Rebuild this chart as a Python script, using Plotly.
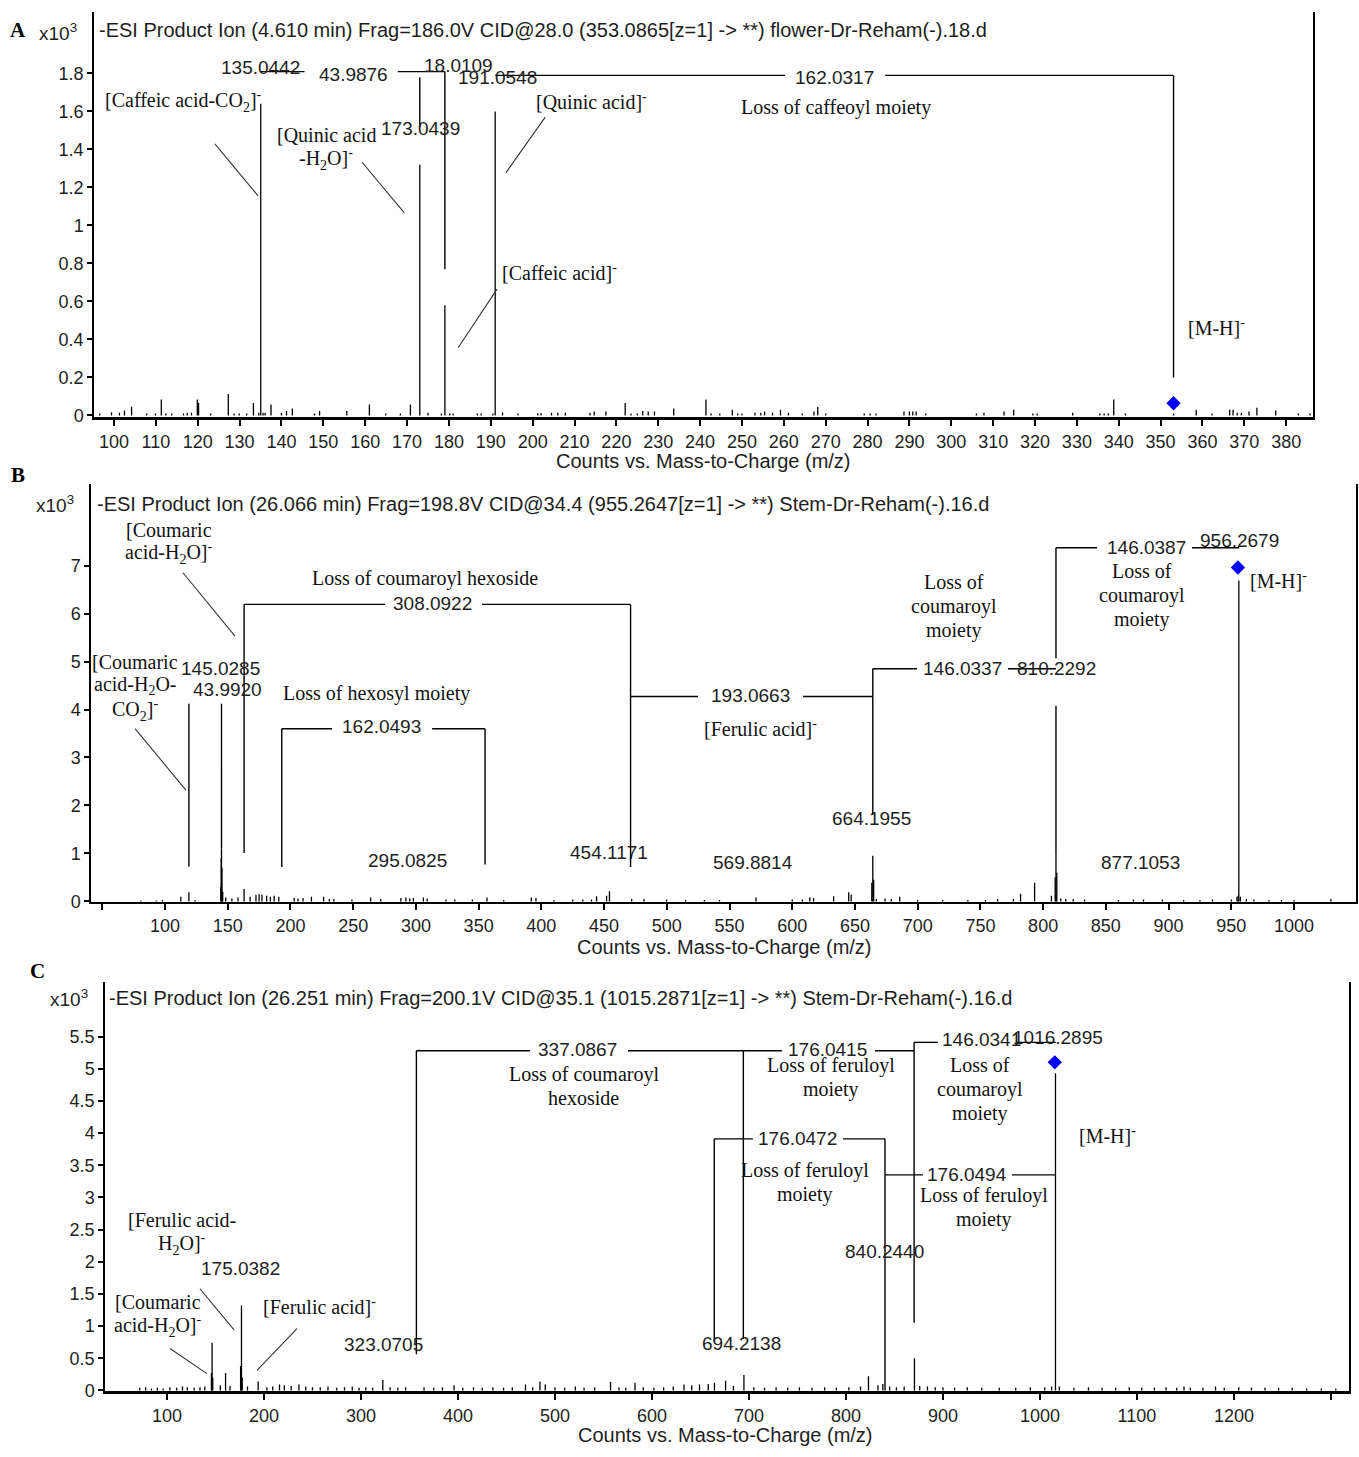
import plotly.graph_objects as go

# ---------------- Panel A data (x10^3 counts) ----------------
a_mz = [96.6, 99.4, 101.3, 102.5, 104.2, 107.8, 109.9, 111.3, 112.4, 113.8, 116.6, 117.5, 118.5,
        119.9, 120.2, 123.1, 127.3, 128.7, 129.9, 131.7, 133.3, 134.6, 135.0442, 135.6, 136.1,
        137.5, 140.0, 141.2, 142.6, 147.9, 149.1, 155.6, 161.0, 164.9, 168.4, 170.8, 173.0439,
        175.0, 178.2, 179.0344, 180.2, 181.0, 186.8, 187.7, 190.5, 191.0548, 192.8, 196.5, 201.2,
        202.0, 204.5, 206.0, 207.8, 213.7, 214.7, 217.5, 222.1, 223.5, 225.0, 226.3, 227.6, 229.1,
        233.7, 241.4, 242.6, 244.7, 247.7, 249.0, 250.0, 253.1, 254.5, 255.4, 257.3, 259.2, 261.1,
        264.4, 267.2, 268.1, 270.0, 279.2, 280.6, 282.0, 288.7, 290.0, 290.8, 291.6, 293.9, 306.0,
        307.8, 312.6, 314.9, 319.5, 320.5, 329.0, 335.5, 336.5, 337.5, 338.8, 341.6, 353.1, 358.5,
        362.3, 366.5, 367.3, 368.3, 369.3, 371.1, 373.0, 377.5, 382.9, 385.7]
a_int = [0.01, 0.017, 0.014, 0.026, 0.045, 0.01, 0.01, 0.084, 0.01, 0.01, 0.01, 0.014, 0.014,
         0.084, 0.066, 0.01, 0.113, 0.01, 0.01, 0.01, 0.066, 0.014, 1.64, 0.014, 0.014,
         0.058, 0.014, 0.023, 0.037, 0.01, 0.023, 0.023, 0.058, 0.01, 0.01, 0.058, 1.32,
         0.014, 0.01, 0.58, 0.01, 0.01, 0.01, 0.01, 0.01, 1.60, 0.017, 0.01, 0.012,
         0.012, 0.014, 0.014, 0.014, 0.014, 0.02, 0.02, 0.066, 0.01, 0.01, 0.023, 0.02, 0.02,
         0.037, 0.084, 0.01, 0.01, 0.03, 0.01, 0.01, 0.014, 0.014, 0.02, 0.014, 0.03, 0.014,
         0.01, 0.02, 0.044, 0.01, 0.01, 0.01, 0.01, 0.02, 0.02, 0.02, 0.02, 0.01, 0.01,
         0.014, 0.02, 0.03, 0.01, 0.01, 0.014, 0.01, 0.01, 0.01, 0.084, 0.01, 0.01, 0.03,
         0.01, 0.03, 0.03, 0.014, 0.014, 0.02, 0.04, 0.026, 0.01, 0.01]
a_prec_mz = [353.0865]
a_prec_int = [0.064]
a_lead_mz = [173.0439, 179.0344, 353.0865]
a_lead_top = [1.78, 1.81, 1.79]
a_lead_bot = [1.52, 0.77, 0.20]
a_br_from = [135.0442, 191.0548]
a_br_to = [179.0344, 353.0865]
a_br_y = [1.81, 1.79]
a_br_gap = [(145.5, 167.8), (260.3, 284.2)]
a_diag = [(124.1, 1.429, 134.4, 1.156), (159.2, 1.334, 169.3, 1.067),
          (203.0, 1.570, 193.6, 1.277), (191.5, 0.665, 182.2, 0.356)]

# ---------------- Panel B data ----------------
b_mz = [80.7, 93.0, 98.0, 112.6, 119.05, 124.0, 144.5, 144.8, 145.0285, 145.4, 146.0, 148.4, 153.3,
        158.2, 163.04, 167.8, 172.5, 175.0, 177.3, 181.0, 184.0, 187.0, 190.7, 203.0, 206.0, 210.0,
        216.7, 226.4, 231.0, 234.6, 249.0, 263.9, 272.0, 288.0, 292.0, 295.08, 298.0, 306.0, 309.0,
        324.0, 331.0, 345.0, 356.7, 370.0, 392.0, 395.7, 410.0, 425.0, 433.0, 440.0, 444.0, 452.0,
        454.3, 472.0, 481.8, 499.8, 515.0, 530.0, 542.0, 571.1, 600.0, 608.0, 614.0, 617.0, 633.0,
        645.0, 647.0, 663.4, 664.1955, 664.9, 667.0, 674.0, 679.0, 685.7, 700.0, 720.0, 740.0,
        754.0, 763.7, 776.3, 782.0, 793.2, 806.6, 809.6, 810.2292, 810.9, 814.0, 818.0, 824.0,
        833.0, 860.0, 872.0, 880.0, 895.0, 912.0, 925.0, 935.0, 950.0, 954.5, 955.5, 956.0, 957.2,
        962.0, 968.0, 980.0, 990.0, 1000.0, 1029.4]
b_int = [0.02, 0.02, 0.03, 0.10, 0.19, 0.03, 0.30, 0.90, 1.11, 0.70, 0.20, 0.08, 0.06,
         0.08, 0.26, 0.10, 0.14, 0.15, 0.14, 0.12, 0.10, 0.12, 0.10, 0.07, 0.06, 0.07,
         0.10, 0.10, 0.05, 0.05, 0.04, 0.08, 0.05, 0.07, 0.08, 0.06, 0.07, 0.08, 0.06,
         0.04, 0.04, 0.04, 0.08, 0.03, 0.08, 0.07, 0.03, 0.04, 0.04, 0.04, 0.11, 0.12,
         0.21, 0.05, 0.05, 0.04, 0.03, 0.03, 0.03, 0.08, 0.04, 0.04, 0.08, 0.07, 0.11,
         0.19, 0.145, 0.39, 0.95, 0.45, 0.05, 0.06, 0.05, 0.10, 0.03, 0.03, 0.03,
         0.03, 0.05, 0.05, 0.16, 0.39, 0.12, 0.50, 0.95, 0.60, 0.06, 0.05, 0.05,
         0.04, 0.03, 0.04, 0.04, 0.04, 0.03, 0.03, 0.04, 0.04, 0.10, 0.12, 6.69, 0.10,
         0.05, 0.04, 0.03, 0.03, 0.03, 0.05]
b_prec_mz = [955.2647]
b_prec_int = [6.96]
b_lead_mz = [119.05, 145.0285, 163.04, 193.0663, 355.12, 471.11, 664.1955, 810.2292, 810.2292]
b_lead_top = [4.12, 4.12, 6.19, 3.60, 3.60, 6.19, 4.85, 4.08, 7.37]
b_lead_bot = [0.73, 1.11, 1.01, 0.72, 0.77, 0.72, 1.80, 0.95, 5.07]
b_br_from = [163.04, 193.0663, 471.11, 664.1955, 810.2292]
b_br_to = [471.11, 355.12, 664.1955, 810.2292, 956.2679]
b_br_y = [6.19, 3.60, 4.27, 4.85, 7.37]
b_br_gap = [(275.4, 352.7), (233.1, 312.9), (524.9, 608.6), (699.5, 772.0), (843.0, 918.7)]
b_diag = [(114.3, 6.85, 155.8, 5.53), (76.1, 3.60, 116.7, 2.32)]

# ---------------- Panel C data ----------------
c_mz = [72, 78, 84, 90, 96, 103, 110, 116, 121, 128, 134, 139, 145.8, 146.5, 147.2, 155, 160.4, 165,
        175.9, 176.4, 176.8, 177.6, 183, 194, 203, 209, 216, 221, 228, 236, 243, 250, 258, 266, 275,
        283, 291, 298, 305, 312, 322.5, 330, 338, 346, 365, 375, 384, 396, 405, 416, 425, 436, 447,
        456, 469.6, 477, 484.5, 490, 500, 510, 521, 530, 541, 557.3, 566, 573, 582.5, 591, 602, 612,
        622, 633, 641, 649, 658, 664.4, 675.9, 684, 694.8, 705, 716, 728, 740, 752, 765, 778, 790,
        803, 815, 823.2, 833, 838, 845, 852, 860, 870.6, 876, 884, 892, 900, 912, 925, 940, 958,
        975, 990, 1005, 1012, 1016.0, 1020, 1035, 1050, 1064, 1078, 1092, 1105, 1118, 1130, 1141,
        1148.5, 1155, 1168, 1181, 1190, 1205, 1218, 1232, 1246, 1260, 1275, 1290, 1305]
c_int = [0.04, 0.05, 0.03, 0.04, 0.03, 0.05, 0.04, 0.06, 0.05, 0.04, 0.05, 0.06, 0.27, 0.74, 0.20, 0.08,
         0.27, 0.07, 0.38, 0.36, 1.32, 0.20, 0.06, 0.14, 0.05, 0.06, 0.09, 0.08, 0.07, 0.09, 0.06,
         0.05, 0.05, 0.06, 0.04, 0.05, 0.06, 0.04, 0.05, 0.04, 0.16, 0.05, 0.04, 0.05, 0.05, 0.04,
         0.05, 0.08, 0.04, 0.05, 0.04, 0.05, 0.04, 0.05, 0.09, 0.05, 0.14, 0.09, 0.05, 0.04, 0.06,
         0.04, 0.05, 0.13, 0.05, 0.04, 0.12, 0.05, 0.04, 0.05, 0.06, 0.09, 0.08, 0.09, 0.10, 0.12,
         0.15, 0.07, 0.24, 0.05, 0.04, 0.05, 0.04, 0.05, 0.04, 0.05, 0.04, 0.05, 0.06, 0.22, 0.08,
         0.10, 0.06, 0.05, 0.06, 0.50, 0.07, 0.06, 0.05, 0.05, 0.04, 0.05, 0.04, 0.04, 0.04, 0.05,
         0.05, 0.06, 4.93, 0.06, 0.04, 0.05, 0.04, 0.04, 0.05, 0.04, 0.04, 0.05, 0.04, 0.06, 0.04,
         0.04, 0.06, 0.04, 0.05, 0.04, 0.04, 0.04, 0.04, 0.03, 0.03, 0.03]
c_prec_mz = [1015.2871]
c_prec_int = [5.10]
c_lead_mz = [357.13, 694.2138, 870.25, 664.2, 840.244]
c_lead_top = [5.28, 5.28, 5.41, 3.91, 3.91]
c_lead_bot = [0.56, 0.80, 1.05, 0.76, 0.0]
c_br_from = [357.13, 694.2138, 870.25, 664.2, 840.244]
c_br_to = [694.2138, 870.25, 1016.2895, 840.244, 1016.2895]
c_br_y = [5.28, 5.28, 5.41, 3.91, 3.35]
c_br_gap = [(474.2, 575.3), (734.0, 829.9), (894.8, 976.3), (704.1, 796.9), (879.4, 971.1)]
c_diag = [(103.1, 0.65, 141.2, 0.26), (134.0, 1.58, 169.1, 0.94), (234.0, 0.96, 192.8, 0.31)]

SANS = "Liberation Sans, Arial, sans-serif"
SERIF = "Liberation Serif, Times New Roman, serif"
TXT = "#1e1e1e"
W, H = 1359, 1457

# y-axis pixel heights and ranges of each panel (used to place multi-line labels)
PANEL_Y = {"": ((12, 420), (-0.0105, 2.124)),
           "2": ((487, 908), (-0.02, 8.70)),
           "3": ((988, 1400), (-0.015, 6.35))}


def sticks(xs, lo, hi):
    X, Y = [], []
    for x, a, b in zip(xs, lo, hi):
        X += [x, x, None]
        Y += [a, b, None]
    return X, Y


def brackets(x1s, x2s, ys, gaps):
    X, Y = [], []
    for x1, x2, y, (g1, g2) in zip(x1s, x2s, ys, gaps):
        lo, hi = min(x1, x2), max(x1, x2)
        X += [lo, g1, None, g2, hi, None]
        Y += [y, y, None, y, y, None]
    return X, Y


def diag(lines):
    X, Y = [], []
    for x0, y0, x1, y1 in lines:
        X += [x0, x1, None]
        Y += [y0, y1, None]
    return X, Y


fig = go.Figure()

panels = [
    ("x", "y", a_mz, a_int, a_prec_mz, a_prec_int, a_lead_mz, a_lead_top, a_lead_bot,
     a_br_from, a_br_to, a_br_y, a_br_gap, a_diag),
    ("x2", "y2", b_mz, b_int, b_prec_mz, b_prec_int, b_lead_mz, b_lead_top, b_lead_bot,
     b_br_from, b_br_to, b_br_y, b_br_gap, b_diag),
    ("x3", "y3", c_mz, c_int, c_prec_mz, c_prec_int, c_lead_mz, c_lead_top, c_lead_bot,
     c_br_from, c_br_to, c_br_y, c_br_gap, c_diag),
]

for xa, ya, mz, inten, pmz, pint, lmz, ltop, lbot, bf, bt, by, bg, dg in panels:
    X, Y = sticks(mz, [0] * len(mz), inten)
    fig.add_trace(go.Scatter(x=X, y=Y, mode="lines", xaxis=xa, yaxis=ya,
                             line=dict(color="black", width=1.3), hoverinfo="skip", showlegend=False))
    X, Y = sticks(lmz, lbot, ltop)
    fig.add_trace(go.Scatter(x=X, y=Y, mode="lines", xaxis=xa, yaxis=ya,
                             line=dict(color="black", width=1.4), hoverinfo="skip", showlegend=False))
    X, Y = brackets(bf, bt, by, bg)
    fig.add_trace(go.Scatter(x=X, y=Y, mode="lines", xaxis=xa, yaxis=ya,
                             line=dict(color="black", width=1.4), hoverinfo="skip", showlegend=False))
    X, Y = diag(dg)
    fig.add_trace(go.Scatter(x=X, y=Y, mode="lines", xaxis=xa, yaxis=ya,
                             line=dict(color="#333333", width=1.1), hoverinfo="skip", showlegend=False))
    fig.add_trace(go.Scatter(x=pmz, y=pint, mode="markers", xaxis=xa, yaxis=ya,
                             marker=dict(symbol="diamond", color="#0000ff", size=11),
                             hoverinfo="skip", showlegend=False))

M = "]<sup>-</sup>"
# (panel, text, x, y, font)
labels = [
    # Panel A
    ("", "135.0442", 135.1, 1.832, "s"),
    ("", "43.9876", 157.1, 1.795, "s"),
    ("", "18.0109", 182.4, 1.842, "s"),
    ("", "191.0548", 191.5, 1.779, "s"),
    ("", "162.0317", 272.2, 1.779, "s"),
    ("", "173.0439", 173.1, 1.512, "s"),
    ("", "[Caffeic acid-CO<sub>2</sub>" + M, 116.5, 1.654, "r"),
    ("", "[Quinic acid<br>-H<sub>2</sub>O" + M, 150.7, 1.413, "r"),
    ("", "[Quinic acid" + M, 214.0, 1.654, "r"),
    ("", "[Caffeic acid" + M, 206.3, 0.754, "r"),
    ("", "Loss of caffeoyl moiety", 272.5, 1.622, "r"),
    ("", "[M-H" + M, 363.3, 0.466, "r"),
    # Panel B
    ("2", "[Coumaric<br>acid-H<sub>2</sub>O" + M, 103.2, 7.50, "r"),
    ("2", "[Coumaric<br>acid-H<sub>2</sub>O-<br>CO<sub>2</sub>" + M, 76.1, 4.49, "r"),
    ("2", "145.0285", 144.6, 4.85, "s"),
    ("2", "43.9920", 150.2, 4.41, "s"),
    ("2", "Loss of coumaroyl hexoside", 307.3, 6.73, "r"),
    ("2", "308.0922", 313.6, 6.21, "s"),
    ("2", "Loss of hexosyl moiety", 268.2, 4.33, "r"),
    ("2", "162.0493", 272.2, 3.64, "s"),
    ("2", "295.0825", 292.9, 0.85, "s"),
    ("2", "454.1171", 454.0, 1.01, "s"),
    ("2", "569.8814", 568.7, 0.81, "s"),
    ("2", "193.0663", 566.4, 4.29, "s"),
    ("2", "[Ferulic acid" + M, 574.3, 3.62, "r"),
    ("2", "Loss of<br>coumaroyl<br>moiety", 729.0, 6.15, "r"),
    ("2", "146.0337", 735.4, 4.85, "s"),
    ("2", "810.2292", 810.3, 4.85, "s"),
    ("2", "664.1955", 662.8, 1.72, "s"),
    ("2", "877.1053", 877.3, 0.81, "s"),
    ("2", "146.0387", 882.1, 7.37, "s"),
    ("2", "956.2679", 956.2, 7.52, "s"),
    ("2", "Loss of<br>coumaroyl<br>moiety", 878.9, 6.38, "r"),
    ("2", "[M-H" + M, 987.3, 6.69, "r"),
    # Panel C
    ("3", "[Ferulic acid-<br>H<sub>2</sub>O" + M, 115.5, 2.46, "r"),
    ("3", "175.0382", 176.3, 1.90, "s"),
    ("3", "[Coumaric<br>acid-H<sub>2</sub>O" + M, 90.7, 1.19, "r"),
    ("3", "[Ferulic acid" + M, 257.7, 1.31, "r"),
    ("3", "323.0705", 323.7, 0.71, "s"),
    ("3", "337.0867", 523.7, 5.30, "s"),
    ("3", "Loss of coumaroyl<br>hexoside", 529.9, 4.73, "r"),
    ("3", "176.0415", 781.4, 5.30, "s"),
    ("3", "Loss of feruloyl<br>moiety", 784.5, 4.87, "r"),
    ("3", "146.0341", 940.2, 5.45, "s"),
    ("3", "1016.2895", 1018.6, 5.48, "s"),
    ("3", "Loss of<br>coumaroyl<br>moiety", 938.1, 4.68, "r"),
    ("3", "[M-H" + M, 1070.1, 3.97, "r"),
    ("3", "176.0472", 750.5, 3.92, "s"),
    ("3", "Loss of feruloyl<br>moiety", 757.7, 3.23, "r"),
    ("3", "176.0494", 924.7, 3.35, "s"),
    ("3", "Loss of feruloyl<br>moiety", 942.3, 2.84, "r"),
    ("3", "840.2440", 840.2, 2.16, "s"),
    ("3", "694.2138", 692.8, 0.73, "s"),
]

LINE_PX = 24
annotations = []
for p, t, x, y, f in labels:
    if f == "s":
        font = dict(family=SANS, size=19, color=TXT)
    else:
        font = dict(family=SERIF, size=20, color="#111111")
    (ptop, pbot), (r0, r1) = PANEL_Y[p]
    units_per_px = (r1 - r0) / (pbot - ptop)
    parts = t.split("<br>")
    n = len(parts)
    for i, part in enumerate(parts):
        yy = y - (i - (n - 1) / 2) * LINE_PX * units_per_px
        annotations.append(dict(text=part, x=x, y=yy, xref="x" + p, yref="y" + p, showarrow=False,
                                xanchor="center", yanchor="middle", font=font))

# paper-positioned header texts: (text, px_x, px_y, anchor, font)
headers = [
    ("<b>A</b>", 18, 30, "center", dict(family=SERIF, size=21, color="black")),
    ("<b>B</b>", 18, 478, "center", dict(family=SERIF, size=21, color="black")),
    ("<b>C</b>", 37, 977, "center", dict(family=SERIF, size=21, color="black")),
    ("x10<sup>3</sup>", 58, 32, "center", dict(family=SANS, size=19, color=TXT)),
    ("x10<sup>3</sup>", 55, 507, "center", dict(family=SANS, size=19, color=TXT)),
    ("x10<sup>3</sup>", 69, 1004, "center", dict(family=SANS, size=19, color=TXT)),
    ("-ESI Product Ion (4.610 min) Frag=186.0V CID@28.0 (353.0865[z=1] -> **) flower-Dr-Reham(-).18.d",
     97, 30, "left", dict(family=SANS, size=20, color=TXT)),
    ("-ESI Product Ion (26.066 min) Frag=198.8V CID@34.4 (955.2647[z=1] -> **) Stem-Dr-Reham(-).16.d",
     95, 507, "left", dict(family=SANS, size=20, color=TXT)),
    ("-ESI Product Ion (26.251 min) Frag=200.1V CID@35.1 (1015.2871[z=1] -> **) Stem-Dr-Reham(-).16.d",
     107, 1004, "left", dict(family=SANS, size=20, color=TXT)),
    ("Counts vs. Mass-to-Charge (m/z)", 703, 464, "center", dict(family=SANS, size=20, color=TXT)),
    ("Counts vs. Mass-to-Charge (m/z)", 724, 953, "center", dict(family=SANS, size=20, color=TXT)),
    ("Counts vs. Mass-to-Charge (m/z)", 725, 1444, "center", dict(family=SANS, size=20, color=TXT)),
]
for t, px, py, anc, font in headers:
    annotations.append(dict(text=t, x=px / W, y=1 - py / H, xref="paper", yref="paper",
                            showarrow=False, xanchor=anc, yanchor="middle", font=font))

tickfont = dict(family=SANS, size=18, color=TXT)


def xax(domain, rng, tv, tt, lw, anchor):
    return dict(domain=domain, range=rng, tickvals=tv, ticktext=tt, ticks="outside", ticklen=6,
                tickwidth=1.5, tickcolor="black", showline=True, linecolor="black", linewidth=lw,
                showgrid=False, zeroline=False, tickfont=tickfont, fixedrange=True, anchor=anchor)


def yax(domain, rng, tv, tt, anchor):
    return dict(domain=domain, range=rng, tickvals=tv, ticktext=tt, ticks="outside", ticklen=5,
                tickwidth=1.5, tickcolor="black", showline=True, mirror=True, linecolor="black",
                linewidth=1.5, showgrid=False, zeroline=False, tickfont=tickfont, anchor=anchor,
                fixedrange=True)


a_xt = list(range(100, 390, 10))
a_yt = [0, 0.2, 0.4, 0.6, 0.8, 1, 1.2, 1.4, 1.6, 1.8]
b_xt = list(range(50, 1001, 50))
b_yt = [0, 1, 2, 3, 4, 5, 6, 7]
c_xt = list(range(100, 1301, 100))
c_yt = [0, 0.5, 1, 1.5, 2, 2.5, 3, 3.5, 4, 4.5, 5, 5.5]


def fmt(v):
    return "%g" % v


fig.update_layout(
    width=W, height=H, margin=dict(l=0, r=0, t=0, b=0),
    paper_bgcolor="white", plot_bgcolor="white", showlegend=False,
    xaxis=xax([94 / W, 1313 / W], [95.22, 386.4], a_xt, [str(v) for v in a_xt], 2.5, "y"),
    yaxis=yax([1 - 420 / H, 1 - 12 / H], list(PANEL_Y[""][1]), a_yt, [fmt(v) for v in a_yt], "x"),
    xaxis2=xax([91 / W, 1356 / W], [41.0, 1049.4], b_xt,
               [("" if v == 50 else str(v)) for v in b_xt], 2, "y2"),
    yaxis2=yax([1 - 908 / H, 1 - 487 / H], list(PANEL_Y["2"][1]), b_yt, [fmt(v) for v in b_yt], "x2"),
    xaxis3=xax([105 / W, 1349 / W], [36.1, 1318.6], c_xt,
               [("" if v == 1300 else str(v)) for v in c_xt], 2.5, "y3"),
    yaxis3=yax([1 - 1400 / H, 1 - 988 / H], list(PANEL_Y["3"][1]), c_yt, [fmt(v) for v in c_yt], "x3"),
    annotations=annotations,
)

fig.write_html("out.html")
